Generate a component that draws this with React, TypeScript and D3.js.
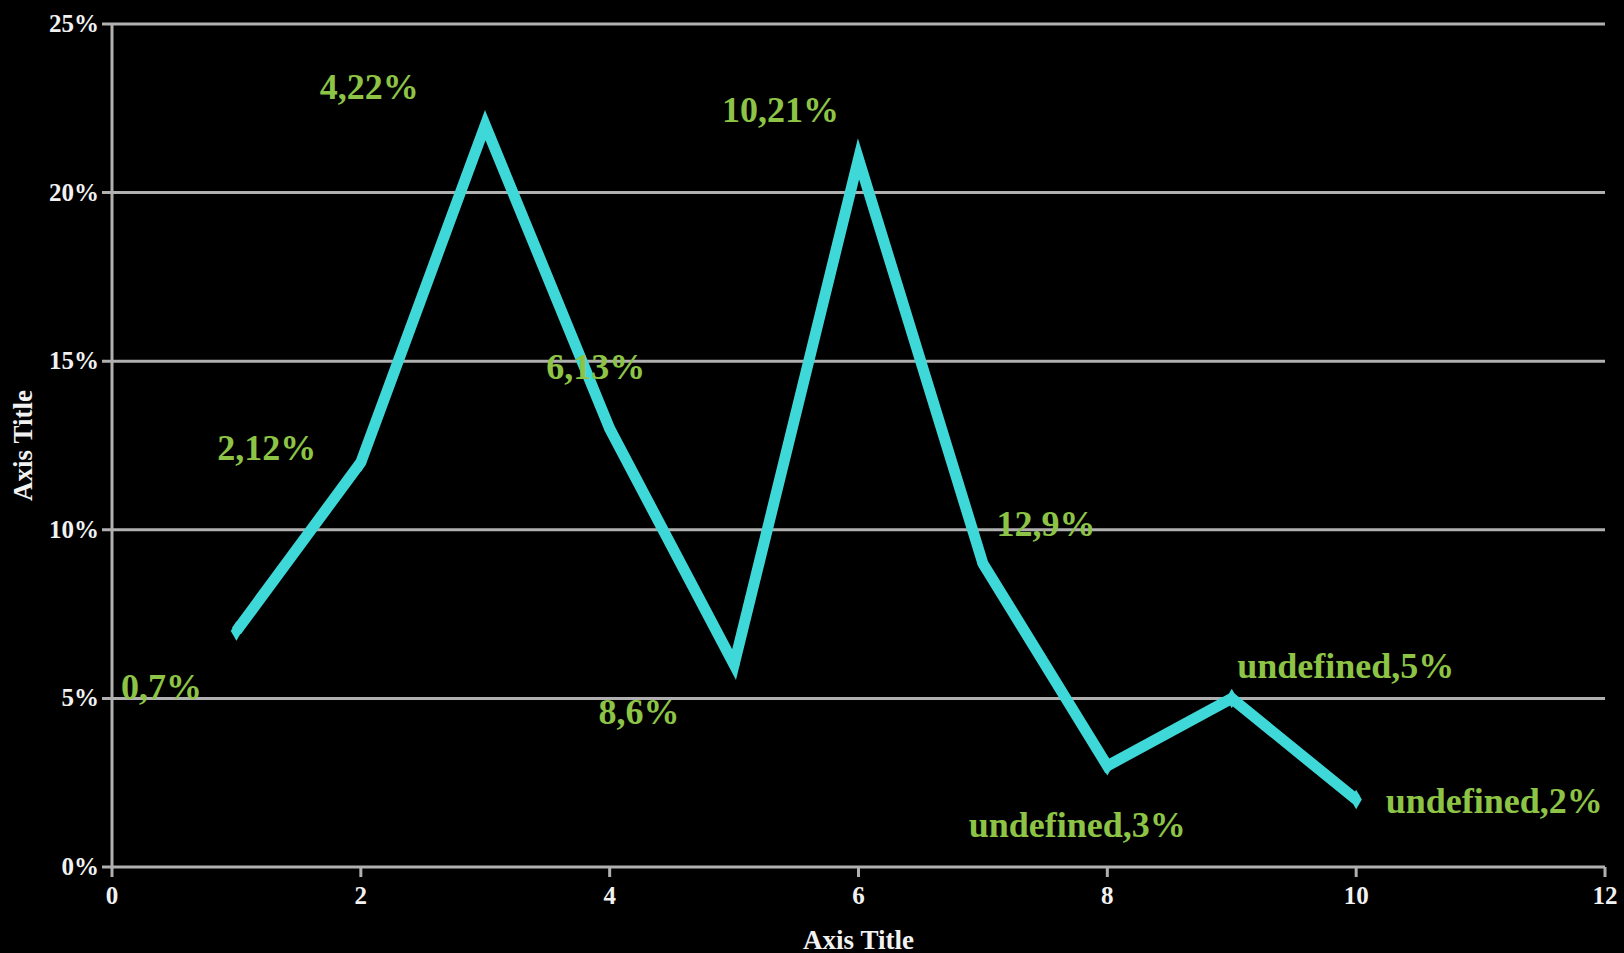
import React from "react";
import * as d3 from "d3";

const xValues = [1, 2, 3, 4, 5, 6, 7, 8, 9, 10];
const yValues = [7, 12, 22, 13, 6, 21, 9, 3, 5, 2];
const labelTexts = ["0,7%", "2,12%", "4,22%", "6,13%", "8,6%", "10,21%", "12,9%", "undefined,3%", "undefined,5%", "undefined,2%"];
const xTicks = [0, 2, 4, 6, 8, 10, 12];
const yTicks = [0, 5, 10, 15, 20, 25];

// label placement offsets (layout only)
const labelOffsets: [number, number][] = [
  [-75, 68], [-94, -2], [-116, -26], [-14, -50], [-95, 59],
  [-78, -37], [63, -28], [-30, 71], [114, -20], [138, 13],
];

const W = 1624;
const H = 953;
const M = { left: 112, right: 19, top: 24, bottom: 86 };

export default function App() {
  const x = d3.scaleLinear().domain([0, 12]).range([M.left, W - M.right]);
  const y = d3.scaleLinear().domain([0, 25]).range([H - M.bottom, M.top]);
  const line = d3
    .line<number>()
    .x((_, i) => x(xValues[i]))
    .y((d) => y(d));
  const diamond = d3.symbol().type(d3.symbolDiamond).size(110)();
  const font = "'Liberation Serif', 'Times New Roman', serif";
  const axisColor = "#b0b0b0";
  return (
    <svg width={W} height={H} style={{ position: "absolute", left: 0, top: 0, background: "#000" }}>
      <rect x={0} y={0} width={W} height={H} fill="#000" />
      {yTicks.map((t) => (
        <g key={"y" + t}>
          <line x1={M.left - 10} x2={W - M.right} y1={y(t)} y2={y(t)} stroke={axisColor} strokeWidth={3} />
          <text x={M.left - 13} y={y(t) + 8} textAnchor="end" fill="#f2f2f2" fontFamily={font} fontWeight="bold" fontSize={25}>
            {t}%
          </text>
        </g>
      ))}
      <line x1={M.left} x2={M.left} y1={M.top} y2={y(0)} stroke={axisColor} strokeWidth={3} />
      {xTicks.map((t) => (
        <g key={"x" + t}>
          <line x1={x(t)} x2={x(t)} y1={y(0)} y2={y(0) + 10} stroke={axisColor} strokeWidth={3} />
          <text x={x(t)} y={y(0) + 37} textAnchor="middle" fill="#f2f2f2" fontFamily={font} fontWeight="bold" fontSize={25}>
            {t}
          </text>
        </g>
      ))}
      <path d={line(yValues) || ""} fill="none" stroke="#3fd8d8" strokeWidth={11} strokeLinejoin="miter" strokeMiterlimit={10} />
      {yValues.map((v, i) => (
        <path key={"m" + i} d={diamond || ""} transform={`translate(${x(xValues[i])},${y(v)})`} fill="#3fd8d8" />
      ))}
      {yValues.map((v, i) => (
        <text
          key={"l" + i}
          x={x(xValues[i]) + labelOffsets[i][0]}
          y={y(v) + labelOffsets[i][1]}
          textAnchor="middle"
          fill="#8dc446"
          fontFamily={font}
          fontWeight="bold"
          fontSize={36}
        >
          {labelTexts[i]}
        </text>
      ))}
      <text x={(M.left + W - M.right) / 2} y={949} textAnchor="middle" fill="#f2f2f2" fontFamily={font} fontWeight="bold" fontSize={27}>
        Axis Title
      </text>
      <text
        transform={`translate(32, ${(M.top + y(0)) / 2}) rotate(-90)`}
        textAnchor="middle"
        fill="#f2f2f2"
        fontFamily={font}
        fontWeight="bold"
        fontSize={27}
      >
        Axis Title
      </text>
    </svg>
  );
}
